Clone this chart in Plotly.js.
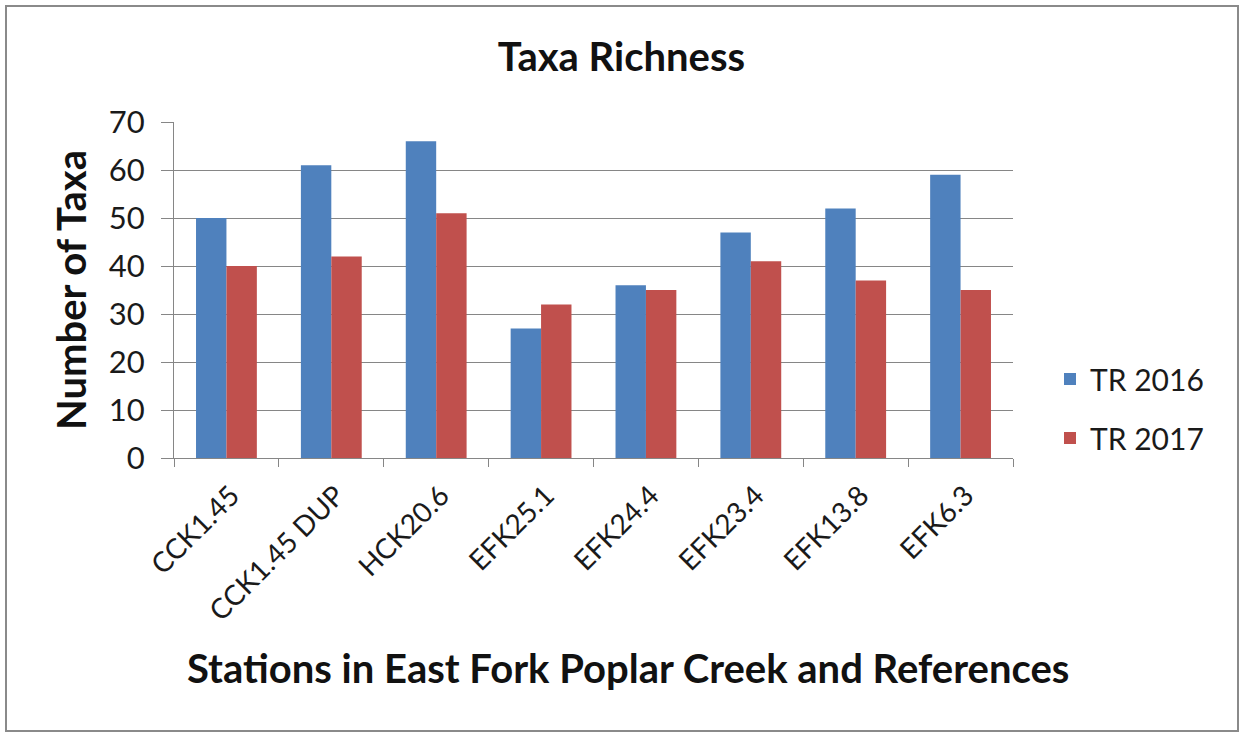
<!DOCTYPE html>
<html>
<head>
<meta charset="utf-8">
<script src="https://cdn.plot.ly/plotly-3.0.1.min.js"></script>
<style>
  html, body { margin: 0; padding: 0; background: #ffffff; }
  #chart { width: 1243px; height: 734px; }
</style>
</head>
<body>
<div id="chart"></div>
<script>
const stations = ["CCK1.45", "CCK1.45 DUP", "HCK20.6", "EFK25.1", "EFK24.4", "EFK23.4", "EFK13.8", "EFK6.3"];
const tr2016 = [50, 61, 66, 27, 36, 47, 52, 59];
const tr2017 = [40, 42, 51, 32, 35, 41, 37, 35];
const yTicks = [0, 10, 20, 30, 40, 50, 60, 70];
const xTitle = "Stations in East Fork Poplar Creek and References";

const FONT = "Lato, Carlito, Calibri, 'Open Sans', sans-serif";

const traces = [
  { type: "bar", name: "TR 2016", x: stations, y: tr2016, marker: { color: "#4F81BD" }, legendgroup: "a" },
  { type: "bar", name: "TR 2017", x: stations, y: tr2017, marker: { color: "#C0504D" }, legendgroup: "b" }
];

const L = 174, R = 1013, T = 122, B = 458, W = 1243, H = 734;
const px = v => (v - L) / (R - L);
const py = v => (B - v) / (B - T);

const layout = {
  width: W, height: H,
  margin: { l: L, r: W - R, t: T, b: H - B, pad: 0 },
  paper_bgcolor: "#ffffff", plot_bgcolor: "#ffffff",
  font: { family: FONT, color: "#1a1a1a" },
  barmode: "group", bargap: 0.42, bargroupgap: 0,
  title: { text: "<b>Taxa Richness</b>", font: { size: 40, family: FONT, color: "#111" }, x: 0.5, xanchor: "center", y: 1 - 57 / H, yanchor: "middle", yref: "container" },
  xaxis: {
    type: "category", tickangle: -45, tickson: "boundaries",
    ticks: "outside", ticklen: 8, tickcolor: "#868686",
    showline: true, linecolor: "#868686", linewidth: 1,
    showgrid: false, tickfont: { size: 28, family: FONT, color: "#1a1a1a" },
    ticklabelstandoff: 9, ticklabelshift: 5,
    automargin: false
  },
  yaxis: {
    range: [0, 70], tickvals: yTicks, ticks: "outside", ticklen: 12, tickcolor: "#868686",
    showline: true, linecolor: "#868686", linewidth: 1,
    showgrid: true, gridcolor: "#868686", gridwidth: 1, zeroline: false,
    tickfont: { size: 31, family: FONT, color: "#1a1a1a" }, ticklabelstandoff: 10,
    title: { text: "<b>Number of Taxa</b>", font: { size: 40, family: FONT, color: "#111" }, standoff: 9 },
    automargin: false
  },
  annotations: [{
    text: "<b>" + xTitle + "</b>", xref: "paper", yref: "paper",
    x: px(627.5), y: py(668), xanchor: "center", yanchor: "middle", showarrow: false,
    font: { size: 40, family: FONT, color: "#111" }
  }],
  legend: {
    x: px(1050), y: py(353), xanchor: "left", yanchor: "top",
    font: { size: 30, family: FONT, color: "#1a1a1a" },
    tracegroupgap: 17, itemwidth: 30, bgcolor: "rgba(0,0,0,0)"
  },
  showlegend: true,
  shapes: [{
    type: "rect", xref: "paper", yref: "paper",
    x0: px(6), x1: px(1238), y0: py(731), y1: py(6),
    line: { color: "#8a8a8a", width: 2 }, fillcolor: "rgba(0,0,0,0)", layer: "below"
  }]
};

Plotly.newPlot("chart", traces, layout, { displayModeBar: false, staticPlot: true });
</script>
</body>
</html>
